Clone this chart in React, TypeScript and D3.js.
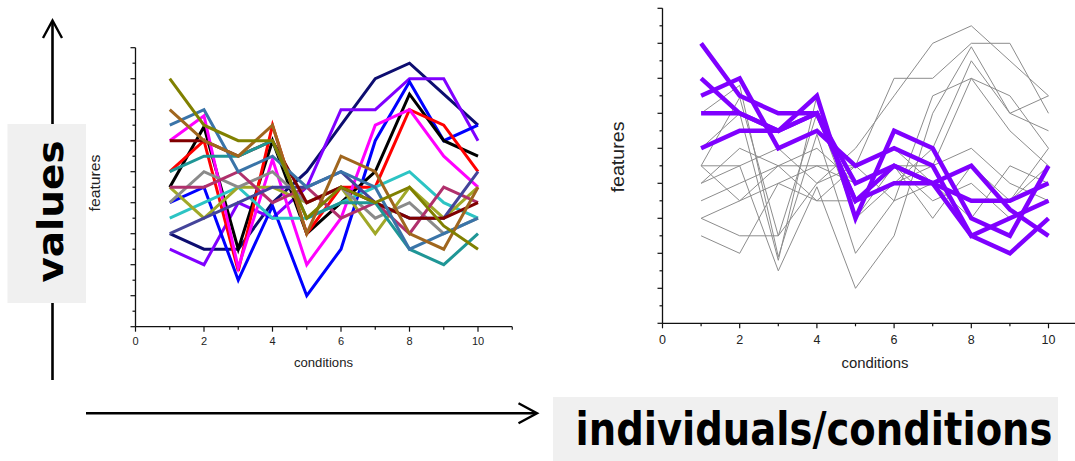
import React from "react";
import * as d3 from "d3";

// ---- data ----
const conditions = [1, 2, 3, 4, 5, 6, 7, 8, 9, 10];

const seriesNames = [
  "navy", "violet", "blue", "black", "red", "magenta", "cyan", "yellowgreen",
  "gray", "mediumvioletred", "darkslateblue", "maroon", "teal", "steelblue", "brown", "olive",
];
const seriesColors = [
  "#0d0d70", "#8000ff", "#0000ff", "#000000", "#ff0000", "#ff00ff", "#2cc4c4", "#a0a828",
  "#8a8a8a", "#b0306c", "#44449a", "#800000", "#1f9696", "#3a74a8", "#a0661e", "#808000",
];
const navy = [3, 2.5, 2.5, 4, 5, 6.5, 8, 8.5, 7.5, 6.5];
const violet = [2.5, 2, 4, 3.5, 4.5, 7, 7, 8, 8, 6];
const blue = [4, 4.5, 1.5, 3.9, 1, 2.5, 6, 7.9, 6, 6.5];
const black = [4.5, 6.45, 2.5, 6, 3, 4, 5, 7.5, 6, 5.5];
const red = [5, 6, 1.8, 6.5, 3, 4.5, 4.5, 7, 6.5, 5];
const magenta = [6, 6.8, 1.9, 5.4, 2, 3.5, 6.5, 7, 5.5, 4.5];
const cyan = [3.5, 4, 4.5, 3.5, 3.5, 4, 4.5, 5, 4, 3.5];
const yellowgreen = [4.5, 3.5, 4.5, 4.5, 4, 4.5, 3, 4.5, 3.5, 4.5];
const gray = [4, 5, 4.5, 5, 4, 4.5, 3.5, 4, 3, 3.5];
const mediumvioletred = [4.5, 4.5, 5, 4, 4.5, 3.5, 4, 3, 4.5, 4];
const darkslateblue = [3, 3.5, 4, 4.5, 4.5, 5, 4, 3.5, 3.5, 5];
const maroon = [6, 6, 5.5, 6, 4, 4.5, 4, 3.5, 3.5, 4];
const teal = [5, 5.5, 5.5, 6, 3.5, 4, 4, 2.5, 2, 3];
const steelblue = [6.5, 7, 5, 5.5, 4.5, 5, 4.5, 2.5, 3, 3.5];
const brown = [7, 6, 5.5, 6.5, 3, 5.5, 5, 3, 2.5, 4.5];
const olive = [8, 6.5, 6, 6, 3.5, 4.5, 4, 4.5, 3.25, 2.5];

const seriesValues = [
  navy, violet, blue, black, red, magenta, cyan, yellowgreen,
  gray, mediumvioletred, darkslateblue, maroon, teal, steelblue, brown, olive,
];
// series highlighted as a cluster in the right panel
const clusterMembers = ["maroon", "teal", "steelblue", "brown", "olive"];

const xTicksMajor = [0, 2, 4, 6, 8, 10];
const xTicksMinor = [1, 3, 5, 7, 9, 11];
const yMax = 9;
const xLabel = "conditions";
const yLabel = "features";
const leftArrowLabel = "values";
const bottomArrowLabel = "individuals/conditions";

// ---- component ----
function Panel({ x, y, clustered, labelFont, fl, cl }) {
  const majorY = d3.range(0, yMax + 1, 1);
  const minorY = d3.range(0.5, yMax, 1);
  const line = d3
    .line<number>()
    .x((_, i) => x(conditions[i]))
    .y((d) => y(d));
  const [x0] = x.range();
  const [y0, yTop] = y.range();
  const xEnd = x(11);
  return (
    <g>
      {seriesValues.map((vals, i) => {
        const name = seriesNames[i];
        if (clustered) {
          if (clusterMembers.includes(name)) return null;
          return (
            <path key={name} d={line(vals) || ""} fill="none" stroke="#8c8c8c" strokeWidth={1} />
          );
        }
        return (
          <path key={name} d={line(vals) || ""} fill="none" stroke={seriesColors[i]} strokeWidth={3} />
        );
      })}
      {clustered &&
        seriesValues.map((vals, i) => {
          const name = seriesNames[i];
          if (!clusterMembers.includes(name)) return null;
          return (
            <path key={name} d={line(vals) || ""} fill="none" stroke="#7f00ff" strokeWidth={4.5} />
          );
        })}
      <line x1={x0} x2={Math.min(xEnd, 1075)} y1={y0} y2={y0} stroke="#111" strokeWidth={1.3} />
      <line x1={x0} x2={x0} y1={y0} y2={yTop} stroke="#111" strokeWidth={1.3} />
      {xTicksMajor.map((t) => (
        <g key={"xm" + t}>
          <line x1={x(t)} x2={x(t)} y1={y0} y2={y0 + 5} stroke="#111" strokeWidth={1.2} />
          <text
            x={x(t)}
            y={y0 + labelFont.dy}
            textAnchor="middle"
            fontFamily="Liberation Sans, Arial, sans-serif"
            fontSize={labelFont.size}
            fill="#222"
          >
            {t}
          </text>
        </g>
      ))}
      {xTicksMinor.map((t) =>
        x(t) <= 1075 ? (
          <line key={"xn" + t} x1={x(t)} x2={x(t)} y1={y0} y2={y0 + 3} stroke="#111" strokeWidth={1.2} />
        ) : null
      )}
      {majorY.map((t) => (
        <line key={"ym" + t} x1={x0 - 5} x2={x0} y1={y(t)} y2={y(t)} stroke="#111" strokeWidth={1.2} />
      ))}
      {minorY.map((t) => (
        <line key={"yn" + t} x1={x0 - 3} x2={x0} y1={y(t)} y2={y(t)} stroke="#111" strokeWidth={1.2} />
      ))}
      <text
        x={cl.x}
        y={cl.y}
        textAnchor="middle"
        fontFamily="Liberation Sans, Arial, sans-serif"
        fontSize={cl.size}
        textLength={cl.len}
        lengthAdjust="spacingAndGlyphs"
        fill="#222"
      >
        {xLabel}
      </text>
      <text
        transform={`translate(${fl.x},${fl.y}) rotate(-90)`}
        textAnchor="middle"
        fontFamily="Liberation Sans, Arial, sans-serif"
        fontSize={fl.size}
        textLength={fl.len}
        lengthAdjust="spacingAndGlyphs"
        fill="#222"
      >
        {yLabel}
      </text>
    </g>
  );
}

export default function App() {
  const W = 1075;
  const H = 461;
  const xL = d3.scaleLinear().domain([0, 11]).range([135.5, 135.5 + 11 * 34.25]);
  const yL = d3.scaleLinear().domain([0, yMax]).range([326.7, 47.7]);
  const xR = d3.scaleLinear().domain([0, 11]).range([662.5, 662.5 + 11 * 38.6]);
  const yR = d3.scaleLinear().domain([0, yMax]).range([323.3, 8.3]);

  const bold = "'DejaVu Sans', Verdana, sans-serif";

  return (
    <svg
      width={W}
      height={H}
      viewBox={`0 0 ${W} ${H}`}
      style={{ position: "absolute", left: 0, top: 0, background: "#fff" }}
    >
      <rect x={0} y={0} width={W} height={H} fill="#fff" />
      {/* vertical arrow */}
      <line x1={52.5} x2={52.5} y1={380} y2={21} stroke="#000" strokeWidth={2.6} />
      <polyline points="43,38 52.5,20.5 62,38" fill="none" stroke="#000" strokeWidth={2.4} />
      <rect x={7.5} y={124} width={78.5} height={179} fill="#f0f0f0" />
      <text
        transform={`translate(63,211.5) rotate(-90) scale(1.08,1)`}
        textAnchor="middle"
        fontFamily={bold}
        fontWeight="bold"
        fontSize={36}
        fill="#000"
      >
        {leftArrowLabel}
      </text>

      {/* horizontal arrow */}
      <line x1={86} x2={536} y1={413.3} y2={413.3} stroke="#000" strokeWidth={2.6} />
      <polyline points="518.5,403.3 537,413.3 518.5,423.3" fill="none" stroke="#000" strokeWidth={2.4} />
      <rect x={553} y={397} width={505} height={64} fill="#f0f0f0" />
      <text
        transform="translate(575.5,445) scale(0.82,1)"
        fontFamily={bold}
        fontWeight="bold"
        fontSize={47}
        fill="#000"
      >
        {bottomArrowLabel}
      </text>

      <Panel
        x={xL}
        y={yL}
        clustered={false}
        labelFont={{ size: 11, dy: 18.5 }}
        fl={{ x: 100, y: 183, size: 14, len: 57 }}
        cl={{ x: 323.5, y: 366.5, size: 13, len: 59 }}
      />
      <Panel
        x={xR}
        y={yR}
        clustered={true}
        labelFont={{ size: 12.5, dy: 21 }}
        fl={{ x: 624, y: 157, size: 18, len: 71 }}
        cl={{ x: 875, y: 367.5, size: 15, len: 67 }}
      />
    </svg>
  );
}
